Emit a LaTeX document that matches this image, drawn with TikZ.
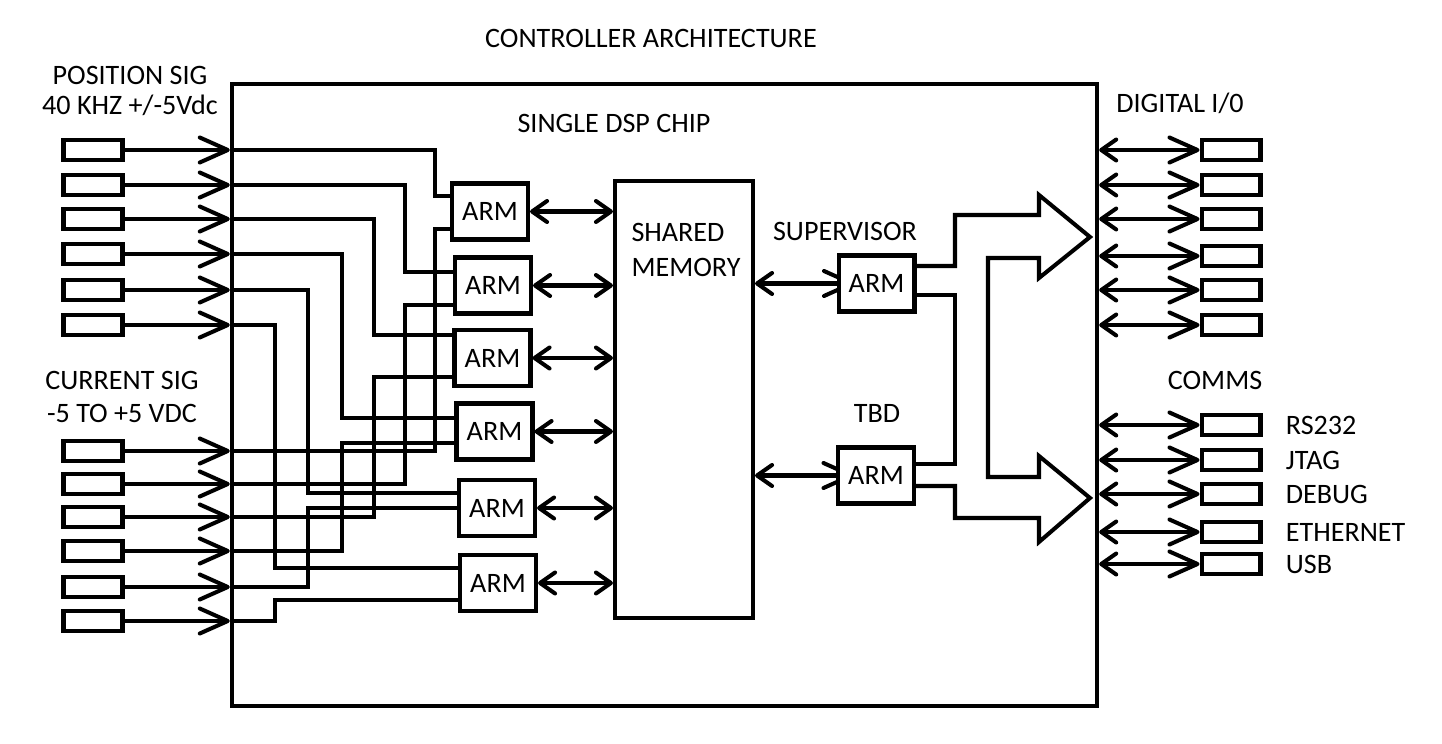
\documentclass[tikz,border=0pt]{standalone}
\usepackage{fontspec}
\setmainfont{Carlito}
\usetikzlibrary{arrows.meta,backgrounds}

\begin{document}
\begin{tikzpicture}[x=0.02cm,y=-0.02cm,
    font=\fontsize{16}{18}\selectfont,
    line width=2.3pt,
    bigtip/.tip={Straight Barb[length=0.56cm,width=0.5cm,round]},
    smalltip/.tip={Straight Barb[length=0.3cm,width=0.42cm,round]},
    iobox/.style={draw,minimum width=1.18cm,minimum height=0.4cm,inner sep=0pt},
    armbox/.style={draw,fill=white,minimum width=1.52cm,minimum height=1.12cm,inner sep=0pt},
  ]
    \useasboundingbox (0,0) rectangle (1442,743);
    \node (title) at (651,38) {CONTROLLER ARCHITECTURE};
    \node[draw,line width=2.6pt,minimum width=17.3cm,minimum height=12.44cm,inner sep=0pt] (chip) at (664.5,395) {};
    \node[align=center,font=\fontsize{16}{17.6}\selectfont] (possig) at (130,91) {POSITION SIG\\40 KHZ +/-5Vdc};
    \node[align=center,font=\fontsize{16}{18.6}\selectfont] (cursig) at (122,397) {CURRENT SIG\\-5 TO +5 VDC};
    \node (dsp) at (614,123) {SINGLE DSP CHIP};
    \node[draw,minimum width=2.76cm,minimum height=8.74cm,inner sep=0pt] (mem) at (684,399.5) {};
    \node[align=left,font=\fontsize{16}{19.8}\selectfont] (memtxt) at (686,250) {SHARED\\MEMORY};
    \foreach \i/\xx/\yy in {1/490/211.5,2/493/285.5,3/492.5/358,4/494.5/431.5,5/497/508,6/498/583}
      \node[armbox] (a\i) at (\xx,\yy) {ARM};
    \node[armbox] (sup) at (876.5,283.5) {ARM};
    \node[armbox] (tbd) at (876,475.5) {ARM};
    \node (suptxt) at (845,231) {SUPERVISOR};
    \node (tbdtxt) at (877,413) {TBD};

    \foreach \i/\yp/\yc in {1/150/451,2/185/484,3/219/517,4/254/551,5/290/587,6/325/621} {
      \node[iobox] (p\i) at (93,\yp) {};
      \node[iobox] (c\i) at (93,\yc) {};
      \draw[-bigtip] (p\i) -- (p\i -| chip.west);
      \draw[-bigtip] (c\i) -- (c\i -| chip.west);
    }
    \foreach \i/\col/\up/\dn in {1/435/196/229,2/405/272/305,3/374/335/377,4/342/418/443,5/308/493/508,6/275/568/600} {
      \draw (p\i -| chip.west) -| (\col,\up) -- (a\i.west |- 0,\up);
      \draw (c\i -| chip.west) -| (\col,\dn) -- (a\i.west |- 0,\dn);
      \draw[smalltip-smalltip] (a\i) -- (a\i -| mem.west);
    }

    \draw (sup.east |- 0,266) -- (955,266) -- (955,215) -- (1039,215) -- (1039,195) -- (1090,237)
      -- (1039,278) -- (1039,258) -- (988,258) -- (988,477) -- (1039,477) -- (1039,456) -- (1090,498)
      -- (1039,542) -- (1039,518) -- (955,518) -- (955,486) -- (tbd.east |- 0,486);
    \draw (sup.east |- 0,295) -- (955,295) -- (955,464) -- (tbd.east |- 0,464);

    \node (dio) at (1180,103) {DIGITAL I/0};
    \foreach \i/\yy in {1/150,2/185,3/219,4/256,5/290,6/325} {
      \node[iobox] (d\i) at (1231,\yy) {};
      \draw[smalltip-bigtip] (d\i -| chip.east) -- (d\i);
    }
    \node (comms) at (1215,380) {COMMS};
    \foreach \i/\yy/\name in {1/425/RS232,2/460/JTAG,3/494/DEBUG,4/532/ETHERNET,5/564/USB} {
      \node[iobox] (k\i) at (1231,\yy) {};
      \draw[smalltip-bigtip] (k\i -| chip.east) -- (k\i);
      \node[anchor=west] (kl\i) at (1278,\yy) {\name};
    }
    \begin{pgfonlayer}{background}
      \draw[line width=2.3pt,smalltip-bigtip] (sup -| mem.east) -- ([xshift=0.35cm]sup.west);
      \draw[line width=2.3pt,smalltip-bigtip] (tbd -| mem.east) -- ([xshift=0.35cm]tbd.west);
    \end{pgfonlayer}
  \end{tikzpicture}
\end{document}
